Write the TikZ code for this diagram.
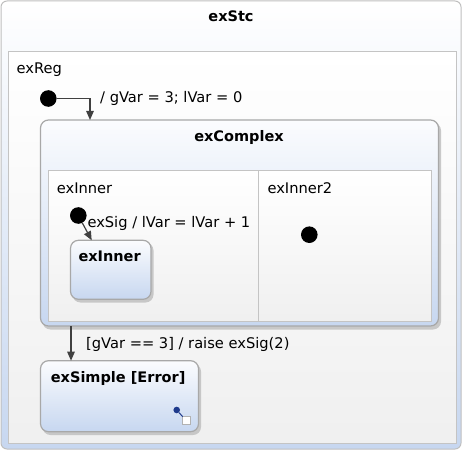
\documentclass[tikz,border=0pt]{standalone}
\usepackage{fontspec}
\setmainfont{DejaVu Sans}
\usetikzlibrary{arrows.meta,calc}
\definecolor{stborder}{HTML}{A8A8A8}
\definecolor{rgborder}{HTML}{C4C4C4}
\definecolor{sttop}{HTML}{FBFCFE}
\definecolor{stbot}{HTML}{C7D7F0}
\definecolor{shad}{HTML}{BDBDBD}
\definecolor{conn}{HTML}{404040}
\definecolor{decoblue}{HTML}{1E3A8C}
\begin{document}
\begin{tikzpicture}[x=1bp,y=-1bp,
  font=\fontsize{14.65bp}{17bp}\selectfont,
  lbl/.style={anchor=base west, inner sep=0},
  ttl/.style={anchor=base, inner sep=0, font=\fontsize{14.5bp}{17bp}\selectfont\bfseries},
  ttlw/.style={anchor=base west, inner sep=0, font=\fontsize{14.5bp}{17bp}\selectfont\bfseries},
  box/.style={anchor=north west, inner sep=0, outer sep=0},
  region/.style={box, draw=rgborder, line width=1bp, top color=white, bottom color=black!6},
  statebox/.style={box, draw=stborder, line width=1.2bp, rounded corners=8bp, top color=sttop, bottom color=stbot},
  shadowbox/.style={fill=shad, rounded corners=8bp, opacity=0.8},
  initst/.style={circle, fill=black, inner sep=0, minimum size=16.6bp},
  trans/.style={draw=conn, line width=1.2bp, -{Triangle[length=9bp,width=7.5bp]}},
]
\useasboundingbox (0,0) rectangle (463,450);
% outer state
\node[box, draw=black!25, line width=1bp, rounded corners=6bp, top color=white, bottom color=stbot,
      minimum width=460bp, minimum height=448bp] (stc) at (1,1) {};
\node[ttl] (stctitle) at (231,22) {exStc};
% region exReg
\node[region, minimum width=448bp, minimum height=391bp] (reg) at (8,52) {};
\node[lbl] (reglbl) at (16.5,74) {exReg};
\node[initst] (i1) at (48.3,98.5) {};
% exComplex
\fill[shadowbox] (42.5,122.5) rectangle (441,329.5);
\node[statebox, minimum width=398bp, minimum height=206bp] (cx) at (40.5,120) {};
\node[ttl] (cxtitle) at (239,142) {exComplex};
\node[region, minimum width=210bp, minimum height=150bp] (r1) at (48,171) {};
\node[region, minimum width=173bp, minimum height=150bp] (r2) at (258,171) {};
\node[lbl] (r1lbl) at (56.7,193.3) {exInner};
\node[lbl] (r2lbl) at (267.3,193.3) {exInner2};
\node[initst] (i2) at (78.3,215.5) {};
\node[initst] (i3) at (309.3,234.7) {};
% exInner state
\fill[shadowbox] (72.5,242.5) rectangle (153.5,302.5);
\node[statebox, minimum width=80.5bp, minimum height=59bp] (ein) at (70.5,240.3) {};
\node[ttlw] (eintitle) at (78.3,261.7) {exInner};
% exSimple state
\fill[shadowbox] (42.5,363.5) rectangle (201,435);
\node[statebox, minimum width=158bp, minimum height=71bp] (es) at (40.5,360.7) {};
\node[ttlw] (estitle) at (50.7,382.3) {exSimple [Error]};
% decoration
\node[circle, fill=decoblue, inner sep=0, minimum size=6.6bp] (dot) at (176.7,410) {};
\node[box, draw=black!30, fill=white, line width=0.8bp, minimum width=8bp, minimum height=7.5bp] (sq) at (182.7,416.7) {};
\draw[decoblue, line width=1bp] (dot) -- (sq.north west);
% transitions
\draw[trans] (i1.east) -| ($(cx.north west)+(49.5,0)$);
\node[lbl] (t1lbl) at (100,103) {/ gVar = 3; lVar = 0};
\draw[trans] (i2) -- ($(ein.north west)+(21.2,0)$);
\node[lbl] (t2lbl) at (87.3,227.7) {exSig / lVar = lVar + 1};
\draw[trans] ($(cx.south west)+(30.5,0)$) -- ($(es.north west)+(30.5,0)$);
\node[lbl] (t3lbl) at (86,348.3) {[gVar == 3] / raise exSig(2)};
\end{tikzpicture}
\end{document}
